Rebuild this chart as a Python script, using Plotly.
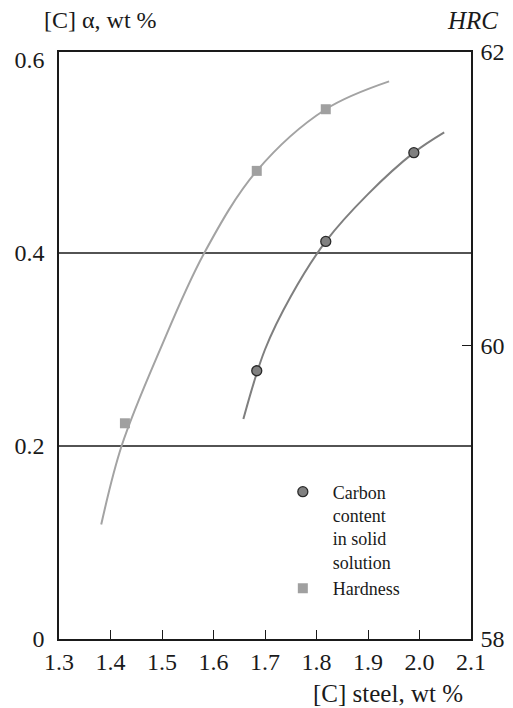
import plotly.graph_objects as go

# Measured points
carbon_x = [1.684, 1.818, 1.989]
carbon_y = [0.278, 0.412, 0.504]
hard_x = [1.428, 1.684, 1.818]
hard_y = [59.47, 61.19, 61.61]

# Trend curves
carbon_curve_x = [1.658, 1.700, 1.750, 1.818, 1.900, 1.989, 2.048]
carbon_curve_y = [0.228, 0.300, 0.355, 0.412, 0.461, 0.504, 0.525]
hard_curve_x = [1.382, 1.422, 1.496, 1.582, 1.684, 1.818, 1.941]
hard_curve_y = [58.78, 59.32, 59.97, 60.63, 61.19, 61.61, 61.80]

x_ticks = [1.3, 1.4, 1.5, 1.6, 1.7, 1.8, 1.9, 2.0, 2.1]
x_tick_text = ["1.3", "1.4", "1.5", "1.6", "1.7", "1.8", "1.9", "2.0", "2.1"]
y_ticks = [0, 0.2, 0.4, 0.6]
y_tick_text = ["0", "0.2", "0.4", "0.6"]
y_grid = [0.2, 0.4]
y2_ticks = [58, 60, 62]

FONT = "Liberation Serif"
INK = "#1a1a1a"
fig = go.Figure()

fig.add_trace(go.Scatter(x=hard_curve_x, y=hard_curve_y, mode="lines", yaxis="y2",
                         line=dict(color="#a3a3a3", width=2, shape="spline", smoothing=1.0),
                         showlegend=False, hoverinfo="skip"))
fig.add_trace(go.Scatter(x=carbon_curve_x, y=carbon_curve_y, mode="lines",
                         line=dict(color="#7f7f7f", width=2, shape="spline", smoothing=1.0),
                         showlegend=False, hoverinfo="skip"))
fig.add_trace(go.Scatter(x=carbon_x, y=carbon_y, mode="markers",
                         name="Carbon<br>content<br>in solid<br>solution",
                         marker=dict(symbol="circle", size=10, color="#808080",
                                     line=dict(color="#2a2a2a", width=1.3))))
fig.add_trace(go.Scatter(x=hard_x, y=hard_y, mode="markers", yaxis="y2",
                         name="Hardness",
                         marker=dict(symbol="square", size=10, color="#a0a0a0",
                                     line=dict(width=0))))

# horizontal grid lines only at 0.2 and 0.4
for gy in y_grid:
    fig.add_hline(y=gy, line=dict(color=INK, width=1.3), layer="below")

fig.update_layout(
    width=505, height=700, autosize=False,
    margin=dict(l=51, r=42, t=44, b=69, autoexpand=False),
    paper_bgcolor="white", plot_bgcolor="white",
    font=dict(family=FONT, size=24, color=INK),
    xaxis=dict(range=[1.3, 2.1], tickvals=x_ticks, ticktext=x_tick_text,
               ticks="inside", ticklen=9, tickwidth=1.3, tickcolor=INK,
               showline=True, linecolor=INK, linewidth=1.5, mirror=True,
               showgrid=False, zeroline=False, automargin=False),
    yaxis=dict(range=[0, 0.6083], tickvals=y_ticks, ticktext=y_tick_text,
               ticks="", showline=True, linecolor=INK, linewidth=1.5,
               showgrid=False, zeroline=False, ticklabelstandoff=8, automargin=False),
    yaxis2=dict(range=[58, 62], tickvals=y2_ticks, overlaying="y", side="right",
                ticks="inside", ticklen=9, tickwidth=1.3, tickcolor=INK,
                showline=True, linecolor=INK, linewidth=1.5,
                showgrid=False, zeroline=False, ticklabelstandoff=3, automargin=False),
    legend=dict(x=0.519, y=0.282, xanchor="left", yanchor="top",
                font=dict(family=FONT, size=18, color=INK),
                bgcolor="rgba(0,0,0,0)", valign="top", tracegroupgap=0,
                itemwidth=50),
    annotations=[
        dict(text="[C] α, wt %", xref="paper", yref="paper", x=-0.041, y=1.0545,
             xanchor="left", yanchor="middle", showarrow=False,
             font=dict(family=FONT, size=24, color=INK)),
        dict(text="<i>HRC</i>", xref="paper", yref="paper", x=1.0704, y=1.0545,
             xanchor="right", yanchor="middle", showarrow=False,
             font=dict(family=FONT, size=25, color=INK)),
        dict(text="[C] steel, wt %", xref="paper", yref="paper", x=0.9854, y=-0.092,
             xanchor="right", yanchor="middle", showarrow=False,
             font=dict(family=FONT, size=25, color=INK)),
    ],
)

fig.write_html("out.html")
